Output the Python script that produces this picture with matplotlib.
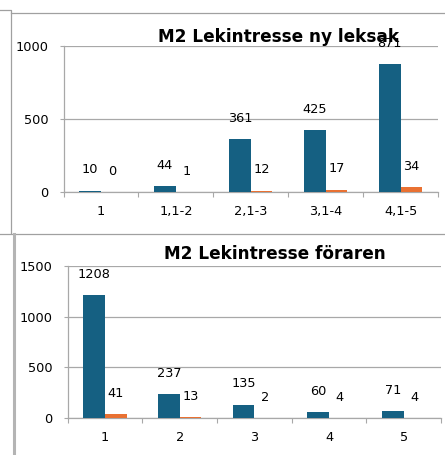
import matplotlib
matplotlib.use("Agg")
import matplotlib.pyplot as plt
from matplotlib.lines import Line2D
import numpy as np

# ---- data ----
cats_top = ["1", "1,1-2", "2,1-3", "3,1-4", "4,1-5"]
blue_top = [10, 44, 361, 425, 871]
orange_top = [0, 1, 12, 17, 34]
yticks_top = [0, 500, 1000]
title_top = "M2 Lekintresse ny leksak"

cats_bot = ["1", "2", "3", "4", "5"]
blue_bot = [1208, 237, 135, 60, 71]
orange_bot = [41, 13, 2, 4, 4]
yticks_bot = [0, 500, 1000, 1500]
title_bot = "M2 Lekintresse föraren"

BLUE = "#156082"
ORANGE = "#E97132"
GRID = "#A8A8A8"
FRAME = "#A0A0A0"
FONT = "DejaVu Sans"
LS = 9.3  # label size
TS = 12.2  # title size

plt.rcParams['font.family'] = [FONT]

W, H = 445, 455
fig = plt.figure(figsize=(W / 100, H / 100), dpi=100)


def px_axes(l, r, b, t):
    return fig.add_axes([l / W, 1 - b / H, (r - l) / W, (b - t) / H])


def draw(ax, cats, blue, orange, yticks):
    n = len(cats)
    x = np.arange(n)
    w = 0.29
    ax.bar(x - w / 2, blue, width=w, color=BLUE, zorder=3)
    ax.bar(x + w / 2, orange, width=w, color=ORANGE, zorder=3)
    for xs, vals in ((x - w / 2, blue), (x + w / 2, orange)):
        for xi, v in zip(xs, vals):
            ax.annotate(str(v), (xi, v), xytext=(0, 15), textcoords="offset points",
                        ha="center", va="center", fontsize=LS, color="black",
                        annotation_clip=False, zorder=5)
    ax.set_xlim(-0.5, n - 0.5)
    ax.set_ylim(yticks[0], yticks[-1])
    ax.set_yticks(yticks)
    ax.set_xticks(np.arange(n + 1) - 0.5)
    ax.set_xticklabels([])
    ax.set_xticks(x, minor=True)
    ax.set_xticklabels(cats, minor=True)
    ax.tick_params(axis="x", which="major", length=3.6, width=0.8, color=GRID, direction="out")
    ax.tick_params(axis="x", which="minor", length=0, pad=9.5, labelsize=LS)
    ax.tick_params(axis="y", length=3, width=0.8, color=GRID, pad=8, labelsize=LS)
    for s in ("top", "right"):
        ax.spines[s].set_visible(False)
    for s in ("left", "bottom"):
        ax.spines[s].set_color(GRID)
        ax.spines[s].set_linewidth(0.9)
    ax.yaxis.grid(True, color=GRID, linewidth=0.9, zorder=0)
    ax.set_axisbelow(True)
    ax.set_facecolor("none")


ax1 = px_axes(63.5, 438, 192.3, 45.5)
draw(ax1, cats_top, blue_top, orange_top, yticks_top)
ax2 = px_axes(67.7, 441, 418.3, 265.7)
draw(ax2, cats_bot, blue_bot, orange_bot, yticks_bot)

fig.text(279 / W, 1 - 42.5 / H, title_top, ha="center", va="baseline",
         fontsize=TS, fontweight="bold", color="black", zorder=4)
fig.text(274.5 / W, 1 - 259.3 / H, title_bot, ha="center", va="baseline",
         fontsize=TS, fontweight="bold", color="black", zorder=4)


def fline(xs, ys, **kw):
    fig.add_artist(Line2D([v / W for v in xs], [1 - v / H for v in ys],
                          transform=fig.transFigure, **kw))


fline([0, 11, 11], [10, 10, 233], color=FRAME, linewidth=0.9)
fline([11, 445], [13, 13], color=FRAME, linewidth=0.9)
fline([0, 445], [234, 234], color=FRAME, linewidth=0.9)
fline([13.5, 13.5], [234, 455], color="#B4B4B4", linewidth=2.2)

fig.savefig("out.png", dpi=100)
